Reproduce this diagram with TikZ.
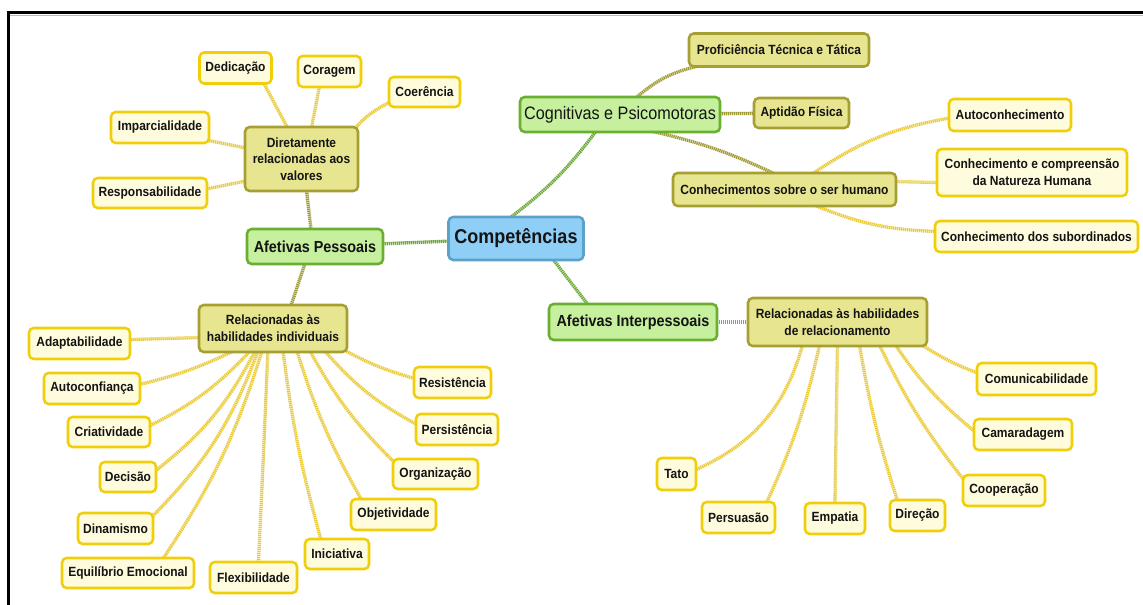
\documentclass[tikz,border=0pt]{standalone}
\usepackage{fontspec}
\setmainfont{Liberation Sans}[FakeStretch=0.9]
\usetikzlibrary{calc}

\definecolor{rootfill}{HTML}{8FCFF7}
\definecolor{rootline}{HTML}{5DA2C6}
\definecolor{grnfill}{HTML}{C6EF9E}
\definecolor{grnline}{HTML}{6AAE32}
\definecolor{khfill}{HTML}{E7E58F}
\definecolor{khline}{HTML}{A6A034}
\definecolor{lffill}{HTML}{FFFBDD}
\definecolor{lfline}{HTML}{F0CF0A}
\definecolor{txt}{HTML}{141414}
\definecolor{lkgreen}{HTML}{6CAB38}
\definecolor{lkolive}{HTML}{A09A38}
\definecolor{lkyellow}{HTML}{EACB36}

\pgfdeclarelayer{bg}
\pgfsetlayers{bg,main}

\tikzset{
  box/.style={rounded corners=3.5pt, line width=1.9pt, align=center, text=txt,
    inner sep=1pt, font=\bfseries\fontsize{10}{12.5}\selectfont},
  leaf/.style={box, fill=lffill, draw=lfline},
  mid/.style={box, fill=khfill, draw=khline},
  lone/.style={box, fill=grnfill, draw=grnline, font=\bfseries\fontsize{12}{14}\selectfont},
  rootbox/.style={box, fill=rootfill, draw=rootline, font=\bfseries\fontsize{15}{18}\selectfont},
  wh/.style 2 args={minimum width=#1*0.75pt, minimum height=#2*0.75pt},
  lk/.style={line width=2.5pt, dash pattern=on 1pt off 0.5pt},
  lkg/.style={lk, draw=lkgreen},
  lko/.style={lk, draw=lkolive},
  lky/.style={lk, draw=lkyellow},
}

\begin{document}
\begin{tikzpicture}[x=0.75pt, y=-0.75pt]
\useasboundingbox (0,0) rectangle (1143,605);

% frame
\draw[gray!55, line width=0.8pt] (10,15.5) -- (1143,15.5);
\draw[black, line width=2.6pt] (8.5,605) -- (8.5,12.5) -- (1143,12.5);

% centre and first level
\node[rootbox, wh={135}{43}] (root) at (516,238.5) {Competências};
\node[lone, wh={136}{35}] (ap) at (315,246.5) {Afetivas Pessoais};
\node[lone, wh={200}{35}, font=\fontsize{13.5}{16}\selectfont] (cp) at (620,114.5) {Cognitivas e Psicomotoras};
\node[lone, wh={168}{36}] (ai) at (633,322) {Afetivas Interpessoais};

% second level
\node[mid, wh={113}{64}] (dv) at (301.5,159) {Diretamente\\relacionadas aos\\valores};
\node[mid, wh={148}{47}] (ri) at (273,328.5) {Relacionadas às\\habilidades individuais};
\node[mid, wh={179}{48}] (rr) at (837.5,322) {Relacionadas às habilidades\\de relacionamento};
\node[mid, wh={180}{33}] (pt) at (779,50) {Proficiência Técnica e Tática};
\node[mid, wh={95}{30}] (af) at (801.5,113) {Aptidão Física};
\node[mid, wh={223}{33}] (cs) at (784.5,189.5) {Conhecimentos sobre o ser humano};

% values
\node[leaf, wh={72}{31}] (ded) at (235.5,68) {Dedicação};
\node[leaf, wh={63}{31}] (cor) at (329.5,71.5) {Coragem};
\node[leaf, wh={71}{30}] (coe) at (424.5,92) {Coerência};
\node[leaf, wh={98}{31}] (imp) at (160,127.5) {Imparcialidade};
\node[leaf, wh={114}{30}] (res) at (150,193) {Responsabilidade};

% knowledge of people
\node[leaf, wh={122}{32}] (aut) at (1010,115) {Autoconhecimento};
\node[leaf, wh={190}{47}] (ccn) at (1032,172.5) {Conhecimento e compreensão\\da Natureza Humana};
\node[leaf, wh={203}{31}] (sub) at (1036.5,236.5) {Conhecimento dos subordinados};

% individual skills
\node[leaf, wh={101}{31}] (ada) at (79.5,343.5) {Adaptabilidade};
\node[leaf, wh={96}{31}] (auc) at (92,388.5) {Autoconfiança};
\node[leaf, wh={82}{30}] (cri) at (109,432) {Criatividade};
\node[leaf, wh={56}{30}] (dec) at (128,477) {Decisão};
\node[leaf, wh={75}{31}] (din) at (115.5,528.5) {Dinamismo};
\node[leaf, wh={132}{30}] (equ) at (128,573) {Equilíbrio Emocional};
\node[leaf, wh={87}{31}] (fle) at (253.5,577.5) {Flexibilidade};
\node[leaf, wh={64}{30}] (ini) at (337,554) {Iniciativa};
\node[leaf, wh={85}{31}] (obj) at (393.5,514.5) {Objetividade};
\node[leaf, wh={85}{30}] (org) at (435.5,474) {Organização};
\node[leaf, wh={82}{31}] (per) at (457,429.5) {Persistência};
\node[leaf, wh={77}{31}] (rst) at (452.5,382.5) {Resistência};

% relationship skills
\node[leaf, wh={119}{32}] (com) at (1036.5,379) {Comunicabilidade};
\node[leaf, wh={98}{31}] (cam) at (1023,434.5) {Camaradagem};
\node[leaf, wh={82}{31}] (coo) at (1004,490.5) {Cooperação};
\node[leaf, wh={55}{31}] (dir) at (917.5,515.5) {Direção};
\node[leaf, wh={60}{31}] (emp) at (835,518.5) {Empatia};
\node[leaf, wh={73}{31}] (psu) at (738.5,517.5) {Persuasão};
\node[leaf, wh={39}{32}] (tat) at (676.5,474) {Tato};

\begin{pgfonlayer}{bg}
% centre to first level
\draw[lkg] (root.center) -- (ap.center);
\draw[lkg] ($(root.north)+(-6,2)$) to[bend right=8] ($(cp.south)+(-24,-2)$);
\draw[lkg] ($(root.south)+(37,-2)$) -- ($(ai.north)+(-45,2)$);

% first to second level
\draw[lko] ($(ap.north)+(-4,2)$) -- ($(dv.south)+(5,-2)$);
\draw[lko] ($(ap.south)+(-10,-2)$) -- ($(ri.north)+(18,2)$);
\draw[lko] ($(cp.north)+(16,2)$) to[bend left=14] ($(pt.south west)+(12,-2)$);
\draw[lko] (cp.center) -- (af.center);
\draw[lko] ($(cp.south)+(32,-2)$) to[bend left=6] ($(cs.north)+(-10,2)$);
\draw[lko] (ai.center) -- (rr.center);

% values
\draw[lky] ($(dv.north)+(-14,2)$) -- ($(ded.south)+(28,-2)$);
\draw[lky] ($(dv.north)+(10,2)$) -- ($(cor.south)+(-10,-2)$);
\draw[lky] ($(dv.north east)+(-4,2)$) to[bend left=10] ($(coe.south west)+(2,-6)$);
\draw[lky] ($(dv.west)+(2,-11)$) -- ($(imp.east)+(-2,13)$);
\draw[lky] ($(dv.west)+(2,22)$) -- ($(res.east)+(-2,-4)$);

% knowledge of people
\draw[lky] ($(cs.north)+(28,2)$) to[bend left=12] ($(aut.west)+(2,3)$);
\draw[lky] ($(cs.east)+(-2,-8)$) -- ($(ccn.west)+(2,10)$);
\draw[lky] ($(cs.south)+(30,-2)$) to[bend right=10] ($(sub.west)+(2,-5)$);

% individual skills
\draw[lky] ($(ri.west)+(2,9)$) -- ($(ada.east)+(-2,-4)$);
\draw[lky] ($(ri.south)+(-40,-2)$) to[bend left=6] ($(auc.east)+(-2,-4)$);
\draw[lky] ($(ri.south)+(-23,-2)$) to[bend left=10] ($(cri.east)+(-2,-6)$);
\draw[lky] ($(ri.south)+(-18,-2)$) to[bend left=12] ($(dec.east)+(-2,-6)$);
\draw[lky] ($(ri.south)+(-15,-2)$) to[bend left=12] ($(din.east)+(-2,-12)$);
\draw[lky] ($(ri.south)+(-11,-2)$) to[bend left=8] ($(equ.north)+(35,2)$);
\draw[lky] ($(ri.south)+(-5,-2)$) -- ($(fle.north)+(5,2)$);
\draw[lky] ($(ri.south)+(10,-2)$) to[bend right=4] ($(ini.north)+(-16,2)$);
\draw[lky] ($(ri.south)+(24,-2)$) to[bend right=6] ($(obj.north)+(-32,2)$);
\draw[lky] ($(ri.south)+(37,-2)$) to[bend right=8] ($(org.north west)+(2,4)$);
\draw[lky] ($(ri.south)+(52,-2)$) to[bend right=10] ($(per.west)+(2,-5)$);
\draw[lky] ($(ri.south east)+(-2,-2)$) to[bend right=6] ($(rst.west)+(2,-4)$);

% relationship skills
\draw[lky] ($(rr.south east)+(-6,-2)$) to[bend right=6] ($(com.west)+(2,-6)$);
\draw[lky] ($(rr.south)+(58,-2)$) to[bend right=8] ($(cam.west)+(2,-3)$);
\draw[lky] ($(rr.south)+(42,-2)$) to[bend right=6] ($(coo.north west)+(2,6)$);
\draw[lky] ($(rr.south)+(22,-2)$) to[bend right=4] ($(dir.north)+(-20,2)$);
\draw[lky] ($(rr.south)+(0,-2)$) -- ($(emp.north)+(0,2)$);
\draw[lky] ($(rr.south)+(-18,-2)$) to[bend left=6] ($(psu.north)+(28,2)$);
\draw[lky] ($(rr.south)+(-35,-2)$) to[bend left=25] ($(tat.east)+(-2,-4)$);
\end{pgfonlayer}
\end{tikzpicture}
\end{document}
